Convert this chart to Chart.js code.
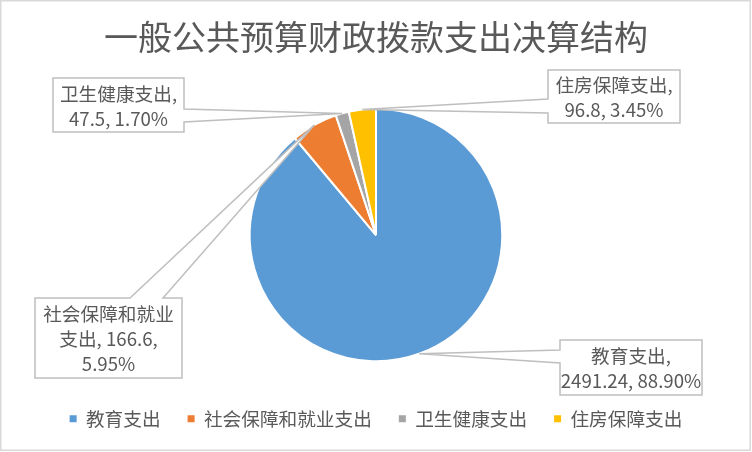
<!DOCTYPE html>
<html>
<head>
<meta charset="utf-8">
<script src="https://cdn.jsdelivr.net/npm/chart.js@4.4.0/dist/chart.umd.min.js"></script>
<style>
  html, body { margin: 0; padding: 0; background: #fff; }
  #wrap { width: 752px; height: 452px; position: relative; }
</style>
</head>
<body>
<div id="wrap"><canvas id="myChart"></canvas></div>
<script>
var titleText = "一般公共预算财政拨款支出决算结构";
var categories = ["教育支出", "社会保障和就业支出", "卫生健康支出", "住房保障支出"];
var amounts = [2491.24, 166.6, 47.5, 96.8];
var sliceColors = ["#5B9BD5", "#ED7D31", "#A5A5A5", "#FFC000"];

var textColor = "#595959";
var fontFamily = "'Noto Sans CJK SC', 'Noto Sans', sans-serif";
var labelSize = 18.67;

// callout boxes (layout only): box, side the wedge leaves from, wedge base, wrap width
var callouts = [
  {x: 560, y: 340, w: 142, h: 55, side: "left", b: [350, 363], wrap: 145},
  {x: 35, y: 298, w: 147, h: 80, side: "top", b: [130, 163], wrap: 135},
  {x: 53, y: 78, w: 131, h: 54, side: "right", b: [109, 122], wrap: 125},
  {x: 548, y: 70, w: 132, h: 53, side: "left", b: [99, 113], wrap: 125}
];

function isCJK(ch) { return /[\u3400-\u9fff]/.test(ch); }

function tokenize(s) {
  var out = [], cur = "";
  for (var ch of s) {
    if (isCJK(ch)) {
      if (cur) { out.push(cur); cur = ""; }
      out.push(ch);
    } else if (ch === " ") {
      out.push(cur + ch); cur = "";
    } else if (cur === "" && out.length && !/\s$/.test(out[out.length - 1])) {
      out[out.length - 1] += ch; // keep punctuation with the char before it
    } else {
      cur += ch;
    }
  }
  if (cur) out.push(cur);
  return out;
}

function wrapText(ctx, text, maxW) {
  var lines = [], line = "";
  tokenize(text).forEach(function (t) {
    var test = line + t;
    if (line && ctx.measureText(test.trimEnd()).width > maxW) {
      lines.push(line.trimEnd());
      line = t;
    } else {
      line = test;
    }
  });
  if (line) lines.push(line.trimEnd());
  return lines;
}

var frame = {
  id: "frame",
  beforeDraw: function (chart) {
    var ctx = chart.ctx;
    ctx.save();
    ctx.fillStyle = "#fff";
    ctx.fillRect(0, 0, chart.width, chart.height);
    ctx.strokeStyle = "#D9D9D9";
    ctx.lineWidth = 1.5;
    ctx.strokeRect(0.75, 0.75, chart.width - 2.5, chart.height - 2.5);
    ctx.restore();
  }
};

var calloutLabels = {
  id: "calloutLabels",
  afterDatasetsDraw: function (chart) {
    var ctx = chart.ctx;
    var total = amounts.reduce(function (a, b) { return a + b; }, 0);
    chart.getDatasetMeta(0).data.forEach(function (arc, i) {
      var p = arc.getProps(["x", "y", "startAngle", "endAngle", "outerRadius"], true);
      var mid = (p.startAngle + p.endAngle) / 2;
      var ax = p.x + Math.cos(mid) * p.outerRadius;
      var ay = p.y + Math.sin(mid) * p.outerRadius;
      var c = callouts[i];
      var x = c.x, y = c.y, w = c.w, h = c.h;

      ctx.save();
      ctx.beginPath();
      ctx.moveTo(x, y);
      if (c.side === "top") {
        ctx.lineTo(c.b[0], y); ctx.lineTo(ax, ay); ctx.lineTo(c.b[1], y);
      }
      ctx.lineTo(x + w, y);
      if (c.side === "right") {
        ctx.lineTo(x + w, c.b[0]); ctx.lineTo(ax, ay); ctx.lineTo(x + w, c.b[1]);
      }
      ctx.lineTo(x + w, y + h);
      ctx.lineTo(x, y + h);
      if (c.side === "left") {
        ctx.lineTo(x, c.b[1]); ctx.lineTo(ax, ay); ctx.lineTo(x, c.b[0]);
      }
      ctx.closePath();
      ctx.fillStyle = "#fff";
      ctx.fill();
      ctx.strokeStyle = "#BFBFBF";
      ctx.lineWidth = 1.5;
      ctx.lineJoin = "miter";
      ctx.stroke();

      var pct = (amounts[i] / total * 100).toFixed(2) + "%";
      var text = categories[i] + ", " + amounts[i] + ", " + pct;
      ctx.font = labelSize + "px " + fontFamily;
      ctx.fillStyle = textColor;
      ctx.textAlign = "center";
      ctx.textBaseline = "middle";
      var lines = wrapText(ctx, text, c.wrap);
      var lh = 25;
      var top = y + h / 2 + 1 - (lines.length - 1) * lh / 2;
      lines.forEach(function (ln, k) {
        ctx.fillText(ln, x + w / 2, top + k * lh);
      });
      ctx.restore();
    });
  }
};

new Chart("myChart", {
  type: "pie",
  data: {
    labels: categories,
    datasets: [{
      data: amounts,
      backgroundColor: sliceColors,
      borderColor: "#fff",
      borderWidth: 2
    }]
  },
  plugins: [frame, calloutLabels],
  options: {
    responsive: true,
    maintainAspectRatio: false,
    animation: false,
    layout: { padding: { top: 0, bottom: 14, left: 0, right: 0 } },
    plugins: {
      title: {
        display: true,
        text: titleText,
        color: textColor,
        font: { family: fontFamily, size: 34, weight: "normal" },
        padding: { top: 17, bottom: 50 }
      },
      legend: {
        position: "bottom",
        // empty title only used as spacing above the legend row
        title: {
          display: true,
          text: " ",
          font: { size: 10 },
          padding: { top: 4, bottom: 4 }
        },
        labels: {
          color: textColor,
          font: { family: fontFamily, size: labelSize },
          boxWidth: 7,
          boxHeight: 7,
          padding: 27,
          generateLabels: function (chart) {
            var items = Chart.overrides.pie.plugins.legend.labels.generateLabels(chart);
            items.forEach(function (it) { it.lineWidth = 0; });
            return items;
          }
        }
      },
      tooltip: { enabled: false }
    }
  }
});
</script>
</body>
</html>
